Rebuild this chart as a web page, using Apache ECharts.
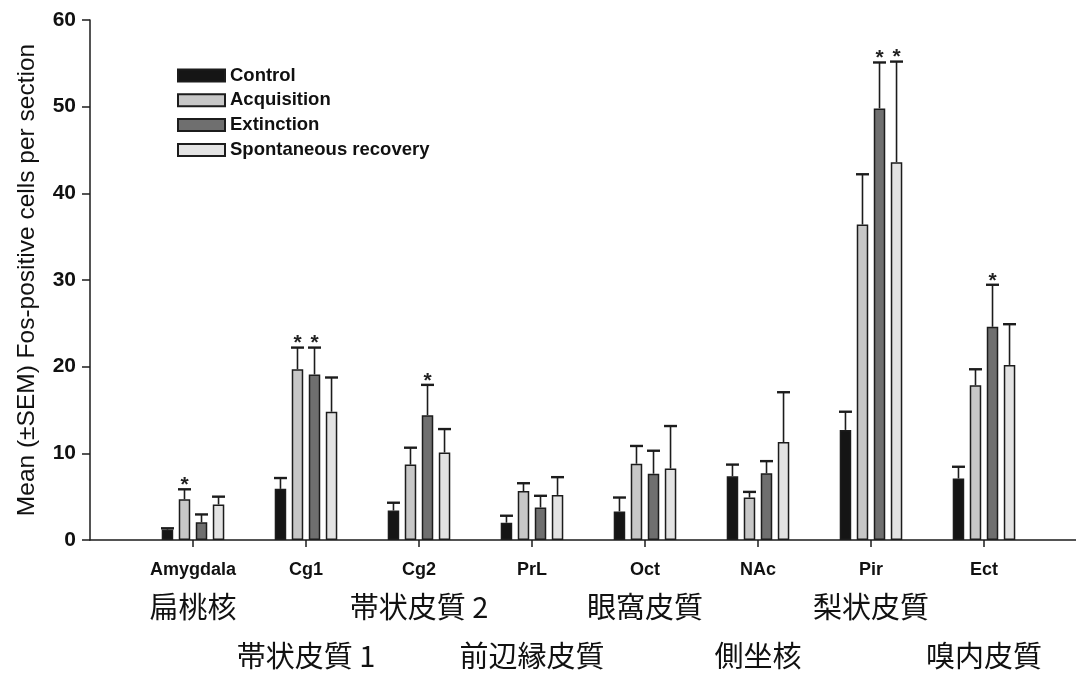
<!DOCTYPE html>
<html>
<head>
<meta charset="utf-8">
<script src="https://cdn.jsdelivr.net/npm/echarts@6/dist/echarts.min.js"></script>
<style>
html,body{margin:0;padding:0;background:#fff;}
#chart{width:1076px;height:673px;}
</style>
</head>
<body>
<div id="chart"></div>
<script>
// ---- data ----
const categories = ['Amygdala', 'Cg1', 'Cg2', 'PrL', 'Oct', 'NAc', 'Pir', 'Ect'];
const jpLabels = ['扁桃核', '帯状皮質 1', '帯状皮質 2', '前辺縁皮質', '眼窩皮質', '側坐核', '梨状皮質', '嗅内皮質'];
const seriesNames = ['Control', 'Acquisition', 'Extinction', 'Spontaneous recovery'];

const controlMean = [1.2, 5.9, 3.4, 2.0, 3.3, 7.35, 12.7, 7.1];
const controlSem  = [0.15, 1.25, 0.9, 0.8, 1.6, 1.35, 2.1, 1.35];
const controlSig  = [0, 0, 0, 0, 0, 0, 0, 0];

const acquisitionMean = [4.7, 19.7, 8.7, 5.65, 8.8, 4.9, 36.4, 17.85];
const acquisitionSem  = [1.15, 2.5, 1.95, 0.9, 2.05, 0.65, 5.8, 1.85];
const acquisitionSig  = [1, 1, 0, 0, 0, 0, 0, 0];

const extinctionMean = [2.05, 19.1, 14.4, 3.75, 7.65, 7.7, 49.8, 24.6];
const extinctionSem  = [0.9, 3.1, 3.5, 1.35, 2.65, 1.4, 5.3, 4.85];
const extinctionSig  = [0, 1, 1, 0, 0, 0, 1, 1];

const recoveryMean = [4.1, 14.8, 10.1, 5.2, 8.25, 11.3, 43.6, 20.2];
const recoverySem  = [0.9, 3.95, 2.7, 2.05, 4.9, 5.75, 11.6, 4.7];
const recoverySig  = [0, 0, 0, 0, 0, 0, 1, 0];

const yMin = 0, yMax = 60, yInterval = 10;

// ---- styling ----
const fills = ['#151515', '#c7c7c7', '#6f6f6f', '#e3e3e3'];
const BAR_W = 11.5, BAR_GAP = 0.48;
const PITCH = BAR_W * (1 + BAR_GAP);
const LINE = '#1c1c1c';

const means = [controlMean, acquisitionMean, extinctionMean, recoveryMean];
const sems = [controlSem, acquisitionSem, extinctionSem, recoverySem];
const sigs = [controlSig, acquisitionSig, extinctionSig, recoverySig];

const chart = echarts.init(document.getElementById('chart'), null, {renderer: 'canvas'});

const series = [];
seriesNames.forEach((name, k) => {
  series.push({
    name: name,
    type: 'bar',
    xAxisIndex: 1,
    yAxisIndex: 1,
    barWidth: BAR_W,
    barGap: (BAR_GAP * 100) + '%',
    data: means[k],
    itemStyle: {color: fills[k], borderColor: LINE, borderWidth: 1.5},
    emphasis: {disabled: true},
    z: 2
  });
});
seriesNames.forEach((name, k) => {
  const off = (k - 1.5) * PITCH;
  series.push({
    type: 'custom',
    xAxisIndex: 1,
    yAxisIndex: 1,
    z: 5,
    silent: true,
    clip: false,
    encode: {x: 0, y: 1},
    data: categories.map((c, i) => [i, means[k][i], sems[k][i], sigs[k][i]]),
    renderItem: function (params, api) {
      const i = api.value(0), m = api.value(1), s = api.value(2), sig = api.value(3);
      const b = api.coord([i, m]);
      const t = api.coord([i, m + s]);
      const x = b[0] + off;
      const children = [
        {type: 'line', shape: {x1: x, y1: b[1], x2: x, y2: t[1]}, style: {stroke: LINE, lineWidth: 1.6}},
        {type: 'line', shape: {x1: x - 6.5, y1: t[1], x2: x + 6.5, y2: t[1]}, style: {stroke: LINE, lineWidth: 2.4}}
      ];
      if (sig) {
        children.push({type: 'text', style: {text: '*', x: x, y: t[1] - 4, align: 'center', verticalAlign: 'middle',
          fontSize: 21, fontWeight: 'bold', fontFamily: 'Liberation Sans, Arial, sans-serif', fill: '#222'}});
      }
      return {type: 'group', children: children};
    }
  });
});

const option = {
  animation: false,
  backgroundColor: '#fff',
  grid: [
    {left: 90, right: -20, top: 20, bottom: 133},
    {left: 136.5, right: 35.5, top: 20, bottom: 133}
  ],
  legend: {
    data: seriesNames,
    orient: 'vertical',
    left: 172,
    top: 61,
    itemWidth: 47,
    itemHeight: 12,
    itemGap: 5.8,
    icon: 'rect',
    selectedMode: false,
    textStyle: {fontSize: 18.5, fontWeight: 'bold', color: '#111', fontFamily: 'Liberation Sans, Arial, sans-serif', padding: [0, 0, 0, 0]}
  },
  xAxis: [
    {
      type: 'value', gridIndex: 0, min: 0, max: 1,
      axisLine: {show: true, lineStyle: {color: LINE, width: 1.5}},
      axisTick: {show: false}, axisLabel: {show: false}, splitLine: {show: false}
    },
    {
      type: 'category', gridIndex: 1, data: categories,
      axisLine: {show: false},
      axisTick: {show: true, alignWithLabel: true, length: 7, lineStyle: {color: LINE, width: 1.5}},
      axisLabel: {
        interval: 0,
        margin: 19,
        formatter: function (v, i) {
          if (i % 2 === 0) return '{en|' + v + '}\n{jp1|' + jpLabels[i] + '}';
          return '{en|' + v + '}\n{sp| }\n{jp2|' + jpLabels[i] + '}';
        },
        rich: {
          en: {fontSize: 18, fontWeight: 'bold', lineHeight: 22, color: '#111', fontFamily: 'Liberation Sans, Arial, sans-serif'},
          jp1: {fontSize: 29, lineHeight: 52, color: '#111', fontFamily: 'Noto Sans CJK JP'},
          sp: {fontSize: 10, lineHeight: 52},
          jp2: {fontSize: 29, lineHeight: 46, color: '#111', fontFamily: 'Noto Sans CJK JP'}
        }
      }
    }
  ],
  yAxis: [
    {
      type: 'value', gridIndex: 0, min: yMin, max: yMax, interval: yInterval,
      name: 'Mean (±SEM) Fos-positive cells per section',
      nameLocation: 'middle', nameRotate: 90, nameGap: 50,
      nameTextStyle: {fontSize: 24.5, color: '#111', fontFamily: 'Liberation Sans, Arial, sans-serif'},
      axisLine: {show: true, lineStyle: {color: LINE, width: 1.5}},
      axisTick: {show: true, length: 8, lineStyle: {color: LINE, width: 1.5}},
      axisLabel: {margin: 14, fontSize: 21, fontWeight: 'bold', color: '#111', fontFamily: 'Liberation Sans, Arial, sans-serif'},
      splitLine: {show: false}
    },
    {
      type: 'value', gridIndex: 1, min: yMin, max: yMax, interval: yInterval, show: false
    }
  ],
  series: series
};
chart.setOption(option);
</script>
</body>
</html>
